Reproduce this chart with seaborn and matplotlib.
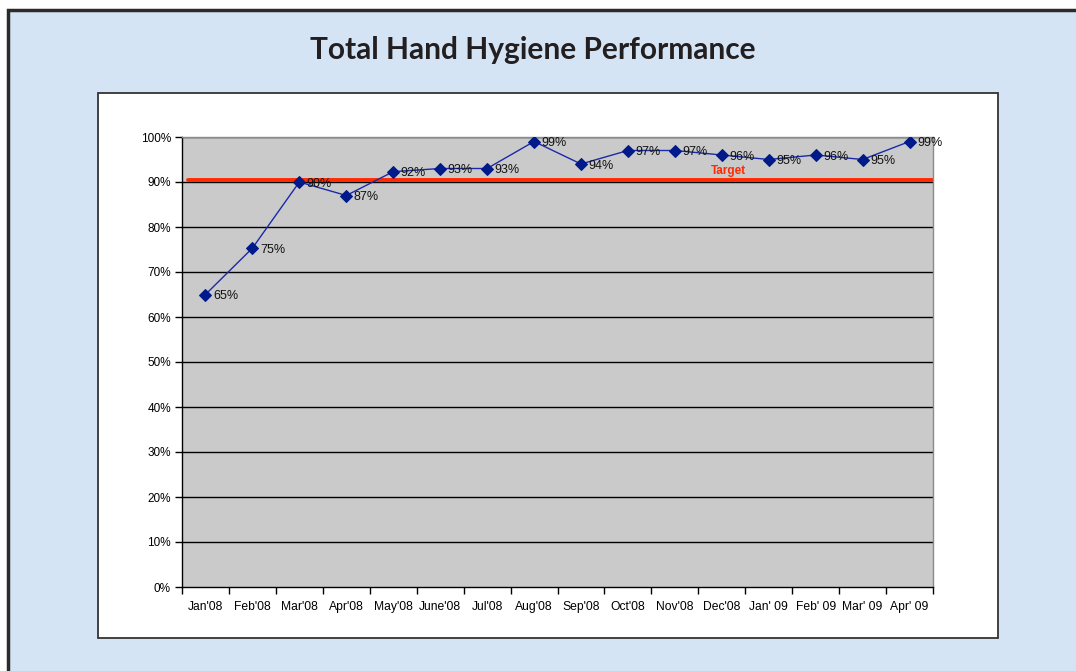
import matplotlib
matplotlib.use("Agg")
import matplotlib.pyplot as plt
from matplotlib.patches import Rectangle
from matplotlib.ticker import FixedLocator, PercentFormatter
import numpy as np
import pandas as pd
import seaborn as sns

months = ["Jan'08", "Feb'08", "Mar'08", "Apr'08", "May'08", "June'08", "Jul'08",
          "Aug'08", "Sep'08", "Oct'08", "Nov'08", "Dec'08", "Jan' 09", "Feb' 09",
          "Mar' 09", "Apr' 09"]
compliance = [65, 75.3, 90, 87, 92.3, 93, 93, 99, 94, 97, 97, 96, 95, 96, 95, 99]
value_labels = ["65%", "75%", "90%", "87%", "92%", "93%", "93%", "99%", "94%", "97%",
                "97%", "96%", "95%", "96%", "95%", "99%"]
target = 90.5
y_ticks = [0, 10, 20, 30, 40, 50, 60, 70, 80, 90, 100]

df = pd.DataFrame({"idx": np.arange(len(months)), "month": months, "pct": compliance})

sns.set_theme(style="white")
plt.rcParams["font.family"] = ["Liberation Sans", "DejaVu Sans"]

W, H = 1076, 671
fig = plt.figure(figsize=(W / 100, H / 100), dpi=100)
fig.patch.set_facecolor("white")

# light blue page with a dark frame on the top and left
fig.patches.append(Rectangle((8 / W, -0.2), 1.2, 1.2 - 10 / H, transform=fig.transFigure,
                             facecolor="#D4E4F4", edgecolor="#2b2b2b", linewidth=2.5,
                             zorder=0))
# white chart panel
fig.patches.append(Rectangle((98 / W, 1 - 638 / H), 900 / W, 545 / H,
                             transform=fig.transFigure, facecolor="white",
                             edgecolor="#333333", linewidth=1.3, zorder=1))

fig.text(533 / W, 1 - 50 / H, "Total Hand Hygiene Performance", ha="center",
         va="center", fontsize=21.5, fontweight="bold", color="#231f20",
         family=["Lato", "DejaVu Sans"])

ax = fig.add_axes([182 / W, 1 - 587 / H, 751 / W, 450 / H], zorder=2)
ax.set_facecolor("#CACACA")

for y in y_ticks[1:]:
    ax.axhline(y, color="black", linewidth=1.0, zorder=1)

ax.plot([0.12 - 0.5, 15.5], [target, target], color="#FF2A00", linewidth=2.8, zorder=2)
ax.text(11.15, target + 0.7, "Target", color="#FF2A00", fontsize=8.5, fontweight="bold",
        ha="center", va="bottom", zorder=3)

sns.lineplot(data=df, x="idx", y="pct", ax=ax, color="#1a2aa8", linewidth=1.0,
             marker="D", markersize=6.5, markerfacecolor="#001a8c",
             markeredgecolor="#001a8c", zorder=4)

for i, (v, lab) in enumerate(zip(compliance, value_labels)):
    ax.text(i + 0.16, v - 0.4, lab, fontsize=9, color="#111111", ha="left",
            va="center", zorder=5)

ax.set_xlim(-0.5, len(months) - 0.5)
ax.set_ylim(0, 100)
ax.set_xlabel("")
ax.set_ylabel("")

ax.set_xticks(np.arange(len(months)))
ax.set_xticklabels(months, fontsize=8.7)
ax.xaxis.set_minor_locator(FixedLocator(np.arange(-0.5, len(months), 1.0)))
ax.tick_params(axis="x", which="major", length=0, pad=10, colors="black")
ax.tick_params(axis="x", which="minor", length=5, width=1, direction="out",
               color="black", bottom=True)

ax.set_yticks(y_ticks)
ax.yaxis.set_major_formatter(PercentFormatter(decimals=0))
ax.tick_params(axis="y", which="major", length=5, width=1, direction="out",
               labelsize=8.5, colors="black", left=True, pad=3)

for side in ["left", "bottom"]:
    ax.spines[side].set_color("black")
    ax.spines[side].set_linewidth(1.0)
for side in ["top", "right"]:
    ax.spines[side].set_color("#8a8a8a")
    ax.spines[side].set_linewidth(1.0)

fig.savefig("out.png", dpi=100)
